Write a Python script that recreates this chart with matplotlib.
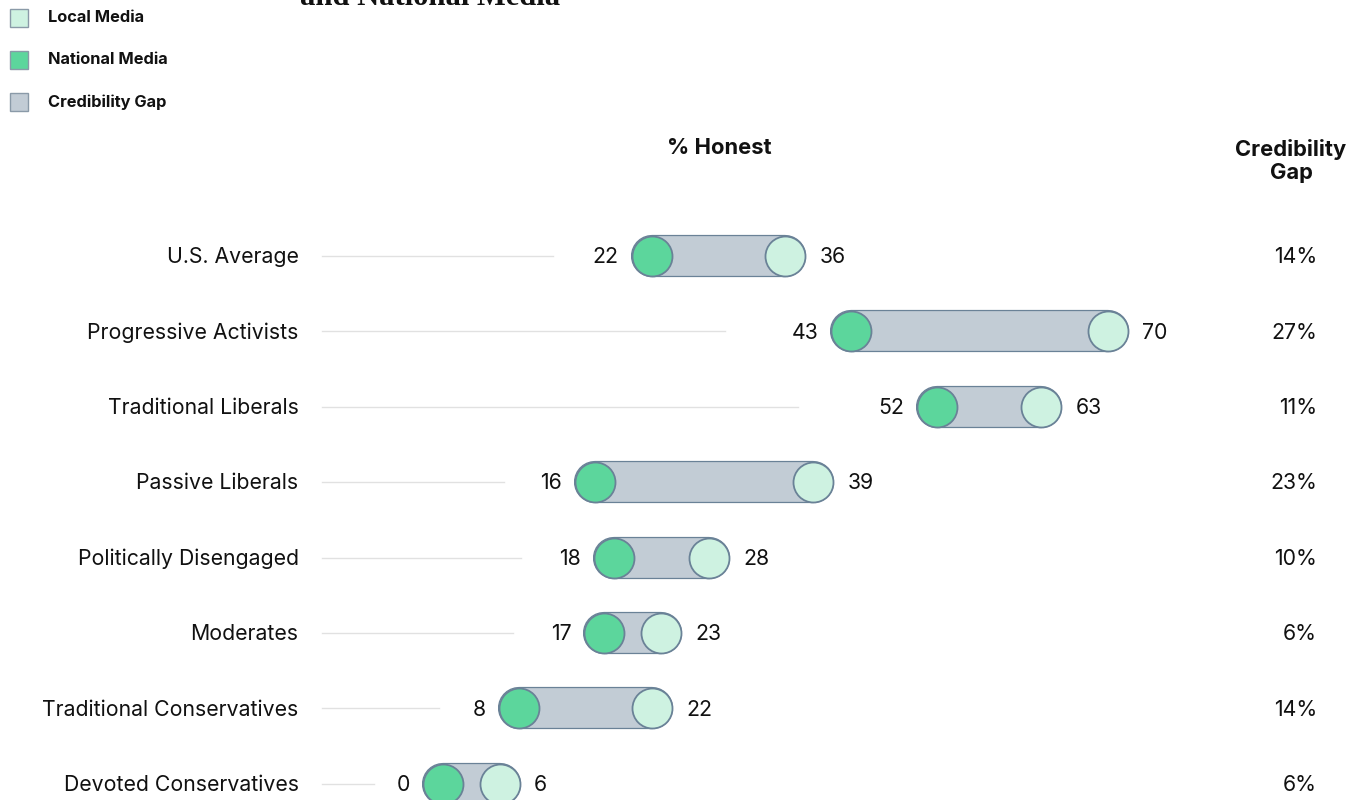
import matplotlib.pyplot as plt
from matplotlib.patches import Rectangle

groups = ["U.S. Average", "Progressive Activists", "Traditional Liberals",
          "Passive Liberals", "Politically Disengaged", "Moderates",
          "Traditional Conservatives", "Devoted Conservatives"]
national = [22, 43, 52, 16, 18, 17, 8, 0]
local = [36, 70, 63, 39, 28, 23, 22, 6]
gaps = ["14%", "27%", "11%", "23%", "10%", "6%", "14%", "6%"]

c_local = "#cef2e1"
c_national = "#5cd69c"
c_gap = "#c2ccd5"
c_edge = "#6a8297"
c_text = "#111111"

plt.rcParams['font.family'] = ['Inter', 'DejaVu Sans']

fig = plt.figure(figsize=(13.55, 8), dpi=100)
ax = fig.add_axes([0, 0, 1, 1])
ax.set_xlim(-46.63, 96.0)
ax.set_ylim(7.215, -3.395)
ax.axis("off")

fs = 15.3
dy = 0.095  # baseline shift so text sits centred on the row

for i, (g, n, l, gp) in enumerate(zip(groups, national, local, gaps)):
    # guide line from the label towards the value
    ax.plot([-12.7, 0.86 * n - 7.3], [i, i], color="#e1e1e1", lw=1, zorder=1)
    # capsule
    ax.plot([n, l], [i, i], color=c_edge, lw=30.4, solid_capstyle="round", zorder=2)
    ax.plot([n, l], [i, i], color=c_gap, lw=28.6, solid_capstyle="round", zorder=3)
    ax.scatter([l], [i], s=830, color=c_local, edgecolor=c_edge, lw=1.3, zorder=4)
    ax.scatter([n], [i], s=830, color=c_national, edgecolor=c_edge, lw=1.3, zorder=5)
    ax.text(n - 3.5, i + dy, str(n), ha="right", va="baseline", fontsize=fs, color=c_text)
    ax.text(l + 3.6, i + dy, str(l), ha="left", va="baseline", fontsize=fs, color=c_text)
    ax.text(-15.2, i + dy, g, ha="right", va="baseline", fontsize=fs, color=c_text)
    ax.text(92.0, i + dy, gp, ha="right", va="baseline", fontsize=fs, color=c_text)

ax.text(719 / 1355, 1 - 148 / 800, "% Honest", transform=ax.transAxes, ha="center",
        va="center", fontsize=15.8, fontweight="bold", color=c_text)
ax.text(1291 / 1355, 1 - 161 / 800, "Credibility\nGap", transform=ax.transAxes,
        ha="center", va="center", fontsize=15.8, fontweight="bold", color=c_text,
        linespacing=1.2)

# title, cut off by the top edge
fig.text(300 / 1355, 1 - 5 / 800, "and National Media", family="Liberation Serif",
         fontweight="bold", fontsize=22, ha="left", va="baseline", color=c_text)

# legend
legend_items = [("Local Media", c_local), ("National Media", c_national),
                ("Credibility Gap", c_gap)]
for k, (name, col) in enumerate(legend_items):
    yk = 18 + 42 * k
    fig.patches.append(Rectangle((10 / 1355, 1 - (yk + 9) / 800), 18 / 1355, 18 / 800,
                                 transform=fig.transFigure, facecolor=col,
                                 edgecolor="#8a9aa8", lw=1))
    fig.text(48 / 1355, 1 - yk / 800, name, ha="left", va="center", fontsize=11.8,
             fontweight="bold", color=c_text)

fig.savefig("out.png", dpi=100)
